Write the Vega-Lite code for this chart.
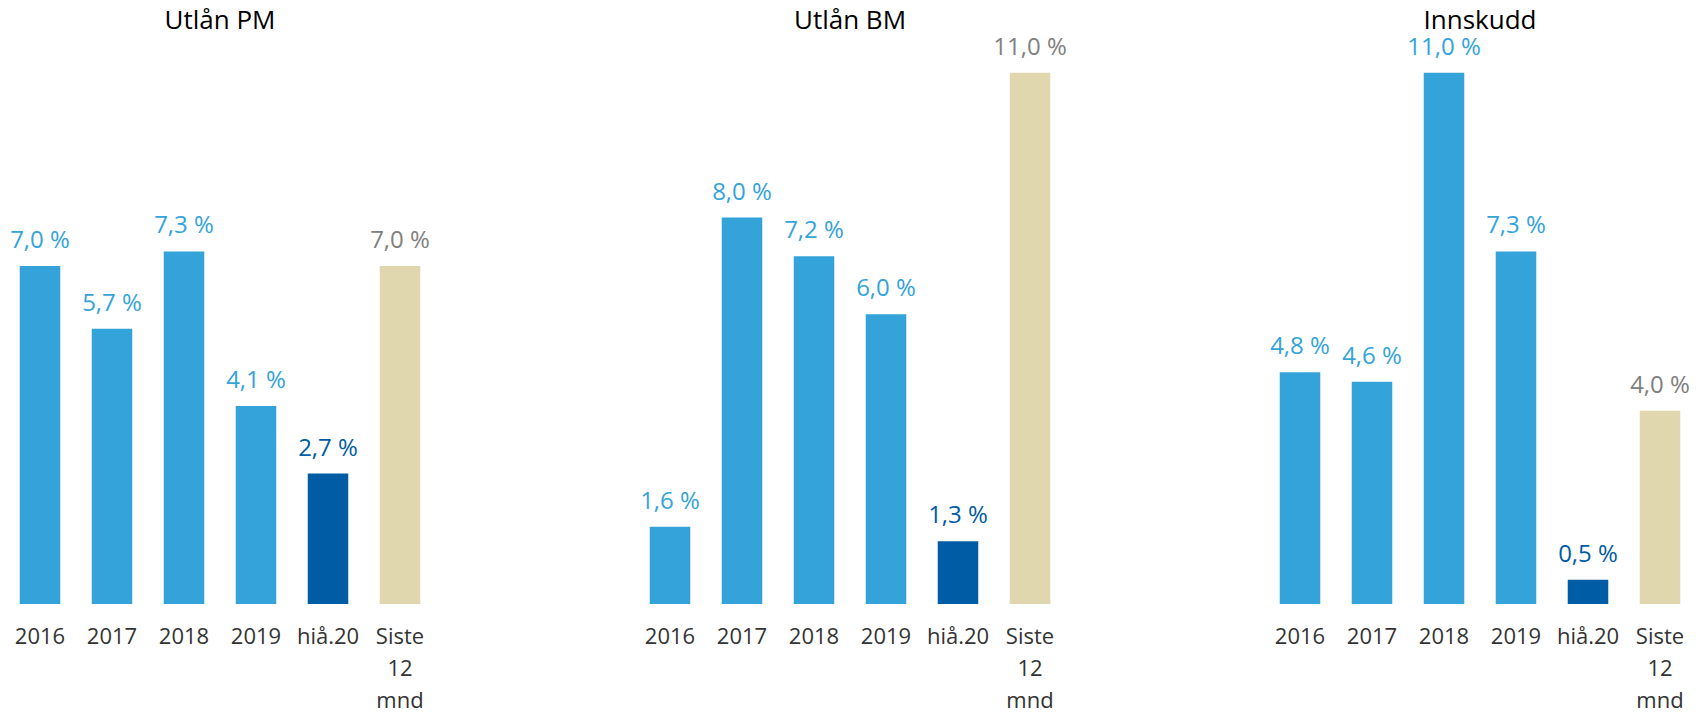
{
  "$schema": "https://vega.github.io/schema/vega-lite/v6.json",
  "padding": {"left": 4, "top": 8, "right": 0, "bottom": 0},
  "background": "white",
  "data": {"values": [
    {"panel": "Utlån PM", "cat": "2016", "type": "hist", "value": 7.0},
    {"panel": "Utlån PM", "cat": "2017", "type": "hist", "value": 5.7},
    {"panel": "Utlån PM", "cat": "2018", "type": "hist", "value": 7.3},
    {"panel": "Utlån PM", "cat": "2019", "type": "hist", "value": 4.1},
    {"panel": "Utlån PM", "cat": "hiå.20", "type": "ytd", "value": 2.7},
    {"panel": "Utlån PM", "cat": "Siste 12 mnd", "type": "l12", "value": 7.0},
    {"panel": "Utlån BM", "cat": "2016", "type": "hist", "value": 1.6},
    {"panel": "Utlån BM", "cat": "2017", "type": "hist", "value": 8.0},
    {"panel": "Utlån BM", "cat": "2018", "type": "hist", "value": 7.2},
    {"panel": "Utlån BM", "cat": "2019", "type": "hist", "value": 6.0},
    {"panel": "Utlån BM", "cat": "hiå.20", "type": "ytd", "value": 1.3},
    {"panel": "Utlån BM", "cat": "Siste 12 mnd", "type": "l12", "value": 11.0},
    {"panel": "Innskudd", "cat": "2016", "type": "hist", "value": 4.8},
    {"panel": "Innskudd", "cat": "2017", "type": "hist", "value": 4.6},
    {"panel": "Innskudd", "cat": "2018", "type": "hist", "value": 11.0},
    {"panel": "Innskudd", "cat": "2019", "type": "hist", "value": 7.3},
    {"panel": "Innskudd", "cat": "hiå.20", "type": "ytd", "value": 0.5},
    {"panel": "Innskudd", "cat": "Siste 12 mnd", "type": "l12", "value": 4.0}
  ]},
  "transform": [
    {"calculate": "replace(format(datum.value, '.1f'), '.', ',') + ' %'", "as": "label"}
  ],
  "facet": {
    "column": {
      "field": "panel",
      "type": "nominal",
      "sort": ["Utlån PM", "Utlån BM", "Innskudd"],
      "title": null,
      "header": {
        "labelFont": "Open Sans",
        "labelFontSize": 26,
        "labelColor": "#000000",
        "labelPadding": -20,
        "labelBaseline": "alphabetic",
        "labelAnchor": "middle"
      }
    }
  },
  "spacing": 197,
  "spec": {
    "width": 432,
    "height": 568,
    "encoding": {
      "x": {
        "field": "cat",
        "type": "nominal",
        "sort": ["2016", "2017", "2018", "2019", "hiå.20", "Siste 12 mnd"],
        "scale": {"paddingInner": 0.437, "paddingOuter": 0.2185},
        "axis": {
          "title": null,
          "labelAngle": 0,
          "domain": false,
          "ticks": false,
          "labelFont": "Open Sans",
          "labelFontSize": 22,
          "labelColor": "#333333",
          "labelPadding": 22,
          "labelLineHeight": 32,
          "labelBaseline": "top",
          "labelExpr": "split(datum.label, ' ')"
        }
      },
      "y": {
        "field": "value",
        "type": "quantitative",
        "scale": {"domain": [0, 11.76], "nice": false},
        "axis": null
      }
    },
    "layer": [
      {
        "mark": {"type": "bar"},
        "encoding": {
          "color": {
            "field": "type",
            "type": "nominal",
            "scale": {"domain": ["hist", "ytd", "l12"], "range": ["#34A3DA", "#005CA5", "#E0D7AE"]},
            "legend": null
          }
        }
      },
      {
        "mark": {"type": "text", "font": "Open Sans", "fontSize": 24, "baseline": "alphabetic", "dy": -18},
        "encoding": {
          "text": {"field": "label"},
          "color": {
            "field": "type",
            "type": "nominal",
            "scale": {"domain": ["hist", "ytd", "l12"], "range": ["#34A3DA", "#005CA5", "#808080"]},
            "legend": null
          }
        }
      }
    ],
    "resolve": {"scale": {"color": "independent"}}
  },
  "config": {
    "view": {"stroke": null},
    "axis": {"grid": false}
  }
}
